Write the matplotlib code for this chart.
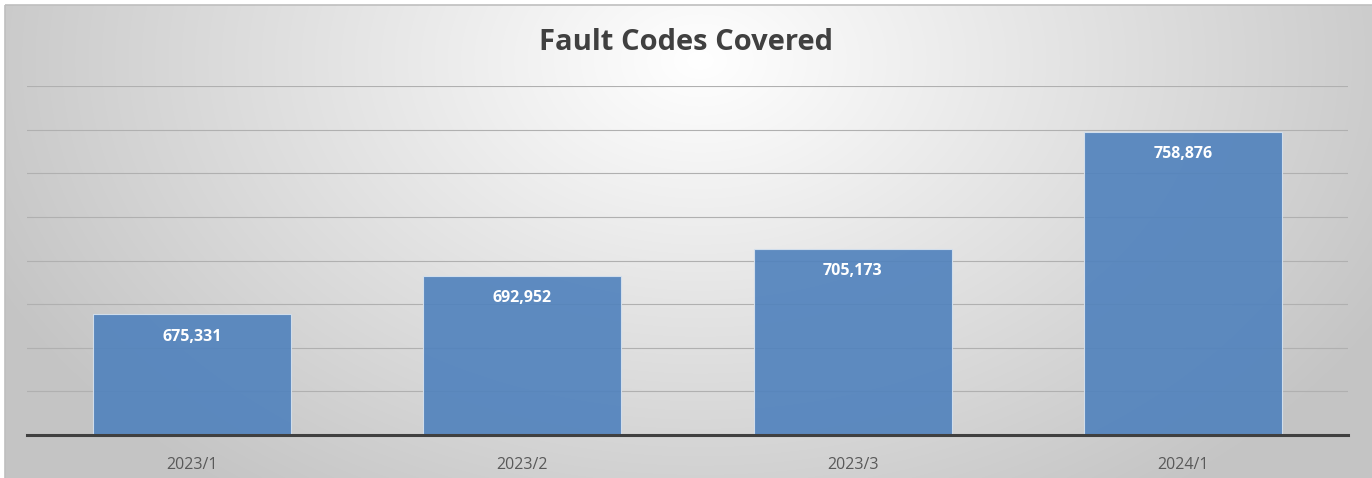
import numpy as np
import matplotlib
matplotlib.use("Agg")
from matplotlib import pyplot as plt
from matplotlib.patches import Rectangle

categories = ["2023/1", "2023/2", "2023/3", "2024/1"]
values = [675331, 692952, 705173, 758876]
y_min, y_max, y_step = 620000, 780000, 20000

plt.rcParams['font.family'] = ['Open Sans', 'DejaVu Sans']

fig = plt.figure(figsize=(13.72, 4.78), dpi=100)

# background: radial gradient, light centre top, grey edges
bg = fig.add_axes([0, 0, 1, 1], zorder=0)
h, w = 478, 1372
yy, xx = np.mgrid[0:h, 0:w]
r = np.sqrt(((xx - 700) / 780.0) ** 2 + ((yy - 60) / 540.0) ** 2)
shade = 1.0 - 0.23 * np.clip(r, 0, 1)
img = np.dstack([shade, shade, shade])
img[:5, :, :] = 1.0
img[:, :5, :] = 1.0
bg.imshow(img, aspect="auto", extent=[0, w, h, 0], interpolation="bilinear")
bg.add_patch(Rectangle((5, 5), w, h, fill=False, edgecolor="#bfbfbf", lw=1.2))
bg.set_xlim(0, w)
bg.set_ylim(h, 0)
bg.axis("off")

ax = fig.add_axes([27 / 1372, 43 / 478, 1321 / 1372, 349 / 478], zorder=1)
ax.patch.set_alpha(0)
x = np.arange(len(categories))
bars = ax.bar(x, values, width=0.6, color="#5283bd", alpha=0.92,
              edgecolor="#d6e2ef", linewidth=0.8, zorder=3)
ax.set_xlim(-0.5, len(categories) - 0.5)
ax.set_ylim(y_min, y_max)
ax.set_yticks(np.arange(y_min, y_max + 1, y_step))
ax.yaxis.grid(True, color="#b0b0b0", linewidth=0.8, zorder=1)
ax.set_axisbelow(True)
ax.tick_params(axis="y", left=False, labelleft=False)
ax.tick_params(axis="x", bottom=False, labelsize=11.5, labelcolor="#595959", pad=12)
ax.set_xticks(x)
ax.set_xticklabels(categories)
for s in ["top", "left", "right"]:
    ax.spines[s].set_visible(False)
ax.spines["bottom"].set_color("#404040")
ax.spines["bottom"].set_linewidth(2.2)
ax.spines["bottom"].set_zorder(4)

for xi, v in zip(x, values):
    ax.annotate(f"{v:,}", (xi, v), xytext=(0, -16), textcoords="offset points",
                ha="center", va="center", color="white", fontsize=11.5,
                fontweight="bold", zorder=5)

fig.text(0.5, 1 - 42 / 478, "Fault Codes Covered", ha="center", va="center",
         fontsize=21, fontweight="bold", color="#404040")

fig.savefig("out.png", dpi=100)
